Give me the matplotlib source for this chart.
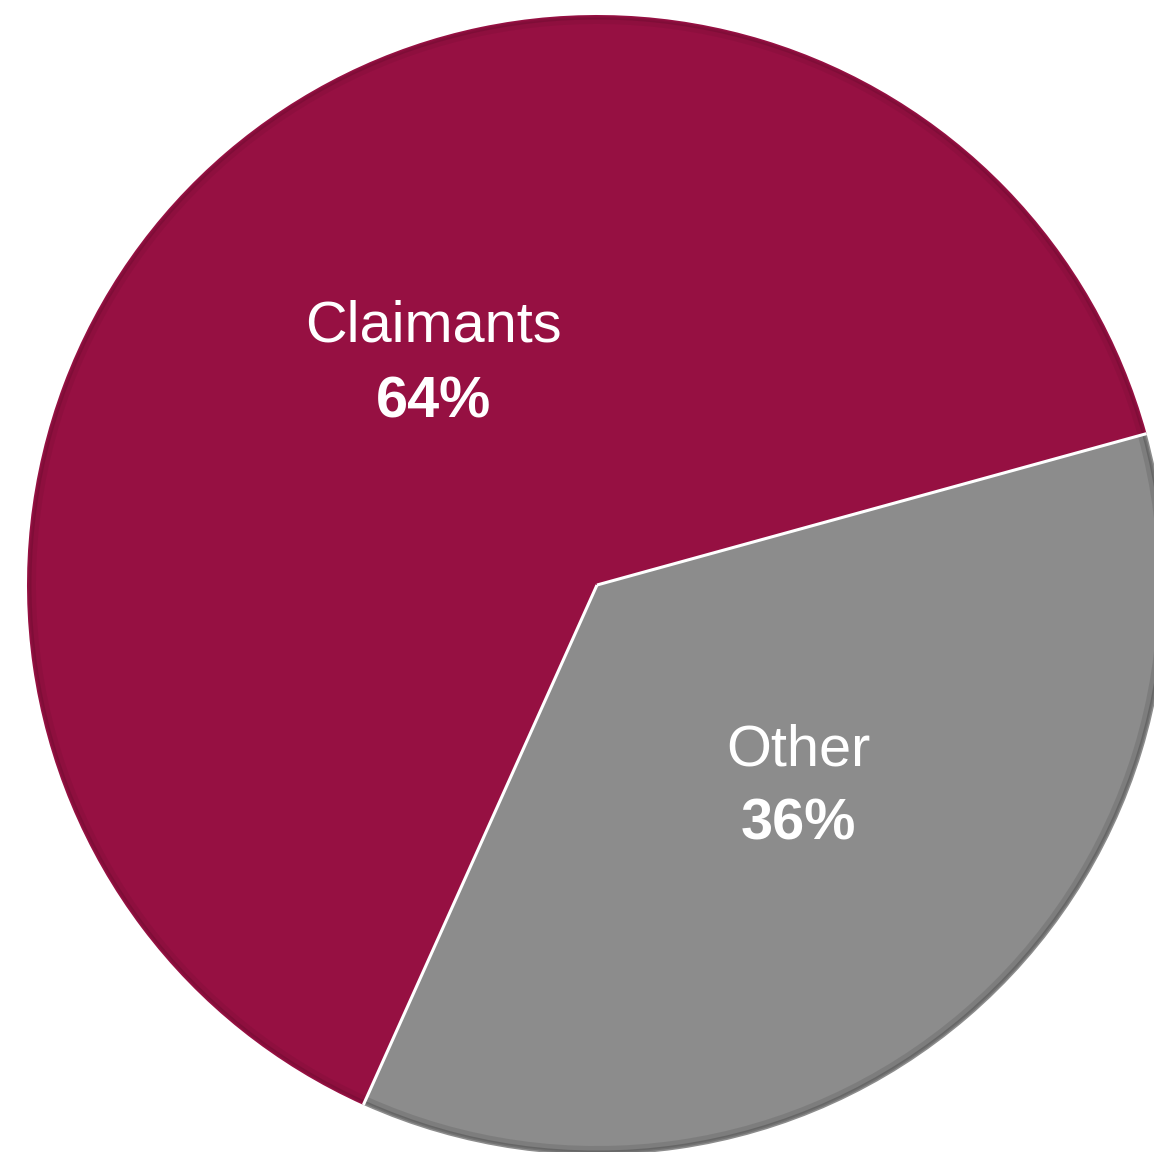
import numpy as np
import matplotlib.pyplot as plt
from matplotlib.patches import Wedge

plt.rcParams['font.family'] = ['Liberation Sans', 'DejaVu Sans']

labels = ['Other', 'Claimants']
shares = [36, 64]
colors = ['#8c8c8c', '#961042']

fig = plt.figure(figsize=(11.54, 11.52), dpi=100)
ax = fig.add_axes([0, 0, 1, 1])

cx, cy, r = 597, 567, 570
start = 15.4

wedges, _ = ax.pie(shares, colors=colors, startangle=start, counterclock=False,
                   center=(cx, cy), radius=r, frame=True,
                   wedgeprops=dict(linewidth=0))
ax.set_xlim(0, 1154)
ax.set_ylim(0, 1152)
ax.axis('off')

# soft bevel along the rim of each slice
rim = {'Other': [(6, 0.10), (3, 0.18)], 'Claimants': [(6, 0.05), (3, 0.10)]}
for w, name in zip(wedges, labels):
    for lw, a in rim[name]:
        ring = Wedge((cx, cy), r - lw / 2, w.theta1, w.theta2, width=lw,
                     facecolor='black', alpha=a, linewidth=0)
        ax.add_patch(ring)

# white seams between the slices
for ang in (wedges[0].theta1, wedges[0].theta2):
    t = np.deg2rad(ang)
    ax.plot([cx, cx + r * np.cos(t)], [cy, cy + r * np.sin(t)],
            color='white', linewidth=2.2, solid_capstyle='butt')

label_pos = {'Claimants': (433, 825), 'Other': (798, 402)}
for name, v in zip(labels, shares):
    x, y = label_pos[name]
    ax.text(x, y, name, ha='center', va='center', color='white', fontsize=41.5)
    ax.text(x, y - 75, f'{v}%', ha='center', va='center', color='white',
            fontsize=41.5, fontweight='bold')

fig.savefig('out.png', dpi=100)
